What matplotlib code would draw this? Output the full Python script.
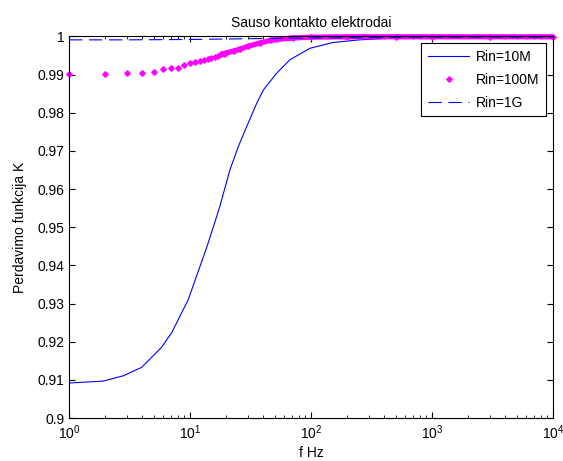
import numpy as np
import matplotlib
matplotlib.use("Agg")
import matplotlib.pyplot as plt

plt.rcParams['font.family'] = ['Liberation Sans', 'DejaVu Sans']
plt.rcParams['mathtext.fontset'] = 'custom'
plt.rcParams['mathtext.rm'] = 'Liberation Sans'

# Rin = 10M (blue solid)
f_10M = [1, 1.92, 2.81, 3.98, 5.83, 7.06, 9.68, 11.7, 13.7, 17.5, 21.4, 25.1,
         29.4, 35.6, 40.4, 52.1, 67, 98, 151, 251, 500, 1000, 3000, 10000]
k_10M = [0.9092, 0.9097, 0.9111, 0.9133, 0.9186, 0.9224, 0.9311, 0.9385, 0.9446,
         0.9551, 0.9651, 0.9712, 0.9764, 0.9825, 0.9860, 0.9904, 0.9939, 0.9969,
         0.9984, 0.9991, 0.9996, 0.9998, 0.9999, 1.0]

# Rin = 100M (magenta dots)
f_100M = [1, 2, 3, 4, 5, 6, 7, 8, 9, 10, 11, 12, 13, 14, 15, 16, 17, 18, 19, 20,
          23, 26, 30, 38, 47, 52, 71, 100, 200, 500, 1000, 3000, 10000]
k_100M = [0.9901, 0.9901, 0.9904, 0.9905, 0.9908, 0.9914, 0.9917, 0.9918, 0.9925,
          0.9930, 0.9933, 0.9936, 0.9938, 0.9941, 0.9944, 0.9947, 0.9950, 0.9953,
          0.9955, 0.9957, 0.9962, 0.9967, 0.9974, 0.9983, 0.9990, 0.9992, 0.9996,
          0.9998, 0.9999, 0.9999, 0.9999, 0.9999, 0.9999]

# Rin = 1G (blue dashed)
f_1G = [1, 3, 10, 30, 100, 1000, 10000]
k_1G = [0.9991, 0.9991, 0.9992, 0.9994, 0.9996, 0.9998, 0.9998]

fig = plt.figure(figsize=(5.63, 4.61), dpi=100)
ax = fig.add_axes([0.1226, 0.093, 0.8597, 0.828])

ax.plot(f_10M, k_10M, color='#0000ff', lw=0.8, label='Rin=10M')

f_m = np.array(f_100M)
k_m = np.array(k_100M)
dense = f_m >= 18
ax.plot(f_m[dense], k_m[dense], color='#ff00ff', lw=3.8, solid_capstyle='butt',
        clip_on=False)
ax.plot(f_m, k_m, ls='none', marker='D', ms=2.8, color='#ff00ff', mec='#ff00ff',
        clip_on=False, label='Rin=100M')

ax.plot(f_1G, k_1G, color='#0000ff', lw=0.8, dashes=(12, 6), label='Rin=1G',
        clip_on=False)

ax.set_xscale('log')
ax.set_xlim(1, 10000)
ax.set_ylim(0.9, 1.0)
ax.set_yticks(np.arange(0.9, 1.0001, 0.01))
ax.set_yticklabels(['0.9', '0.91', '0.92', '0.93', '0.94', '0.95', '0.96',
                    '0.97', '0.98', '0.99', '1'])
ax.tick_params(which='both', direction='in', top=True, right=True, labelsize=10)
ax.tick_params(which='major', length=4, width=0.8)
ax.tick_params(which='minor', length=2, width=0.6)
for s in ax.spines.values():
    s.set_linewidth(0.8)

ax.set_title('Sauso kontakto elektrodai', fontsize=10, pad=7)
ax.set_xlabel('f Hz', fontsize=10, labelpad=3)
ax.set_ylabel('Perdavimo funkcija K', fontsize=10, labelpad=7)

leg = ax.legend(loc='upper right', fontsize=10, fancybox=False, framealpha=1,
                edgecolor='black', borderaxespad=0.5, handlelength=3.0,
                labelspacing=0.65, borderpad=0.45, handletextpad=0.5)
leg.get_frame().set_linewidth(0.8)

fig.savefig('out.png', dpi=100)
